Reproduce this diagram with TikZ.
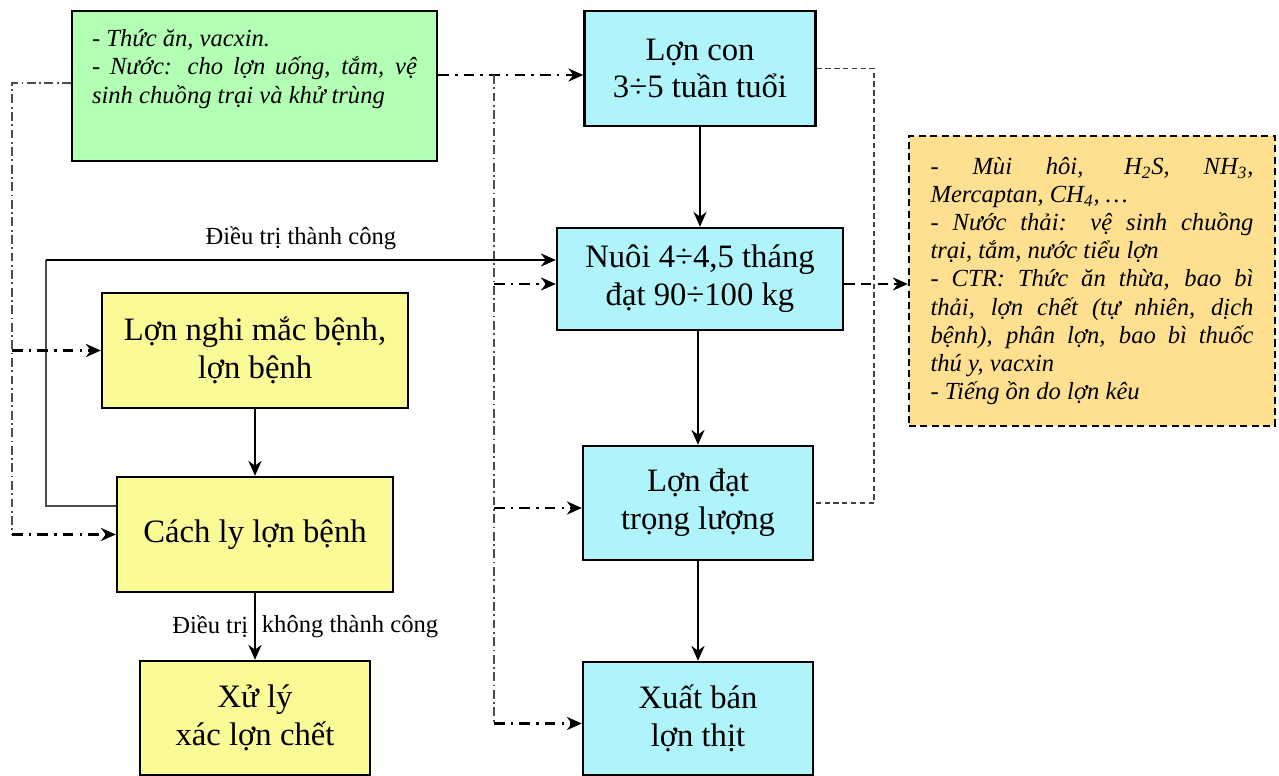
\documentclass[tikz,border=0pt]{standalone}
\usepackage{fontspec}
\setmainfont{Liberation Serif}
\usetikzlibrary{arrows.meta}
\definecolor{xanhla}{RGB}{179,255,179}
\definecolor{xanhduong}{RGB}{175,244,250}
\definecolor{vang}{RGB}{250,250,150}
\definecolor{cam}{RGB}{255,224,145}
\begin{document}
\begin{tikzpicture}[x=0.02cm,y=-0.02cm,
	khoi/.style={draw,line width=1.4pt,align=center,inner sep=2pt,font=\fontsize{18.6}{21.5}\selectfont},
	muiten/.style={-{Stealth[length=8.5pt,width=7.5pt]},line width=1.2pt},
	chamgach/.style={line width=1.2pt,dash pattern=on 6pt off 3.5pt on 1.5pt off 3.5pt},
	chamgachnho/.style={line width=0.6pt,black!70,dash pattern=on 5pt off 2pt on 1pt off 2pt},
	gachnho/.style={line width=0.6pt,black!75,dash pattern=on 3pt off 2pt},
	nhan/.style={font=\fontsize{14}{16}\selectfont}]
	\useasboundingbox (0,0) rectangle (1279,776);
	% dau vao va chat thai
	\node[khoi,fill=xanhla,minimum width=7.3cm,minimum height=3cm,inner xsep=0.4cm,inner ysep=0.36cm] (dauvao) at (254.5,86)
	{\parbox[c][2.28cm][t]{6.5cm}{\fontsize{14}{16.2}\selectfont\itshape
			- Thức ăn, vacxin.\\
			- Nước: cho lợn uống, tắm, vệ\linebreak sinh chuồng trại và khử trùng}};
	\node[khoi,fill=cam,dash pattern=on 4pt off 2.5pt,minimum width=7.32cm,minimum height=5.8cm,inner xsep=0.42cm] (chatthai) at (1092,281)
	{\parbox{6.46cm}{\fontsize{14}{16}\selectfont\itshape
			- Mùi hôi, H\textsubscript{2}S, NH\textsubscript{3},\linebreak Mercaptan, CH\textsubscript{4}, \dots\\
			- Nước thải: vệ sinh chuồng\linebreak trại, tắm, nước tiểu lợn\\
			- CTR: Thức ăn thừa, bao bì\linebreak thải, lợn chết (tự nhiên, dịch\linebreak bệnh), phân lợn, bao bì thuốc\linebreak thú y, vacxin\\
			- Tiếng ồn do lợn kêu}};
	% cot giua
	\node[khoi,fill=xanhduong,minimum width=4.62cm,minimum height=2.3cm] (con) at (700,68.5) {Lợn con\\3÷5 tuần tuổi};
	\node[khoi,fill=xanhduong,minimum width=5.72cm,minimum height=2.04cm] (nuoi) at (700,279) {Nuôi 4÷4,5 tháng\\đạt 90÷100 kg};
	\node[khoi,fill=xanhduong,minimum width=4.6cm,minimum height=2.28cm] (dat) at (698,503) {Lợn đạt\\trọng lượng};
	\node[khoi,fill=xanhduong,minimum width=4.6cm,minimum height=2.26cm] (ban) at (698,718.5) {Xuất bán\\lợn thịt};
	% cot trai
	\node[khoi,fill=vang,minimum width=6.12cm,minimum height=2.3cm] (nghi) at (255,350.5) {Lợn nghi mắc bệnh,\\lợn bệnh};
	\node[khoi,fill=vang,minimum width=5.52cm,minimum height=2.3cm] (caly) at (255,534.5) {Cách ly lợn bệnh};
	\node[khoi,fill=vang,minimum width=4.6cm,minimum height=2.28cm] (xuly) at (255,718) {Xử lý\\xác lợn chết};
	\coordinate (cottrai) at (12,0);
	\coordinate (cotgiua) at (494,0);
	\coordinate (cotphai) at (874,0);
	\coordinate (vong) at (46,260);
	\coordinate (vaocon) at ([yshift=-0.13cm]con.west);
	\coordinate (vaonuoi) at ([yshift=-0.1cm]nuoi.west);
	\coordinate (vaodat) at ([yshift=-0.1cm]dat.west);
	\coordinate (vaoban) at ([yshift=-0.1cm]ban.west);
	\coordinate (ranuoi) at ([yshift=-0.1cm]nuoi.east);
	\coordinate (radauvao) at ([yshift=0.06cm]dauvao.west);
	% luong chinh
	\draw[muiten] (con) -- (nuoi);
	\draw[muiten] (nuoi.south -| dat.north) -- (dat.north);
	\draw[muiten] (dat) -- (ban);
	\draw[muiten] (nghi) -- (caly);
	\draw[muiten] (caly) -- (xuly) node[midway,left,nhan] {Điều trị} node[midway,right,nhan] {không thành công};
	\draw[line width=0.6pt,black!70] ([yshift=0.57cm]caly.west) -| (vong);
	\draw[muiten] (vong) -- (vong -| nuoi.west) node[midway,above=2pt,nhan] {Điều trị thành công};
	% dau vao
	\draw[chamgach,muiten] (dauvao.east |- vaocon) -- (vaocon);
	\draw[chamgachnho] (cotgiua |- vaocon) -- (cotgiua |- vaoban);
	\foreach \n in {vaonuoi,vaodat,vaoban}
	\draw[chamgach,muiten] (cotgiua |- \n) -- (\n);
	\draw[chamgachnho] (radauvao) -| (cottrai |- caly.west);
	\foreach \n in {nghi,caly}
	\draw[chamgach,muiten] (cottrai |- \n.west) -- (\n.west);
	% chat thai
	\draw[muiten,dash pattern=on 6pt off 3.5pt] (ranuoi) -- (ranuoi -| chatthai.west);
	\draw[gachnho] (con.east) -- (cotphai |- con.east) -- (cotphai |- dat.east) -- (dat.east);
\end{tikzpicture}
\end{document}
